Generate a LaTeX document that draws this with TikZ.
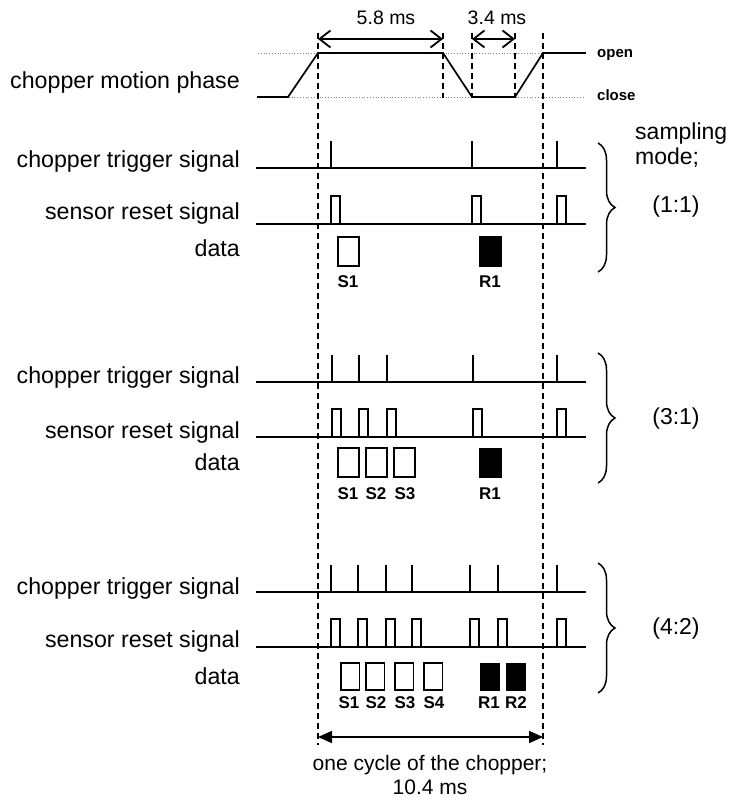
\documentclass[tikz,border=0pt]{standalone}
\usepackage{fontspec}
\setmainfont{Liberation Sans}
\usetikzlibrary{arrows.meta,decorations.pathreplacing}

\tikzset{
  sig/.style={line width=1.7pt, line cap=rect},
  spike/.style={line width=1.4pt},
  pulse/.style={line width=1.4pt},
  sbox/.style={line width=1.7pt},
  rbox/.style={fill=black, draw=black, line width=1pt},
  guide/.style={gray, line width=0.8pt, dotted},
  cycleline/.style={line width=1.6pt, dash pattern=on 6pt off 4pt},
  rowlabel/.style={anchor=east, font=\fontsize{23.2}{27}\selectfont, inner sep=0pt},
  dlabel/.style={font=\bfseries\fontsize{17}{20}\selectfont, inner sep=0pt},
  tlabel/.style={font=\fontsize{19.5}{22}\selectfont, inner sep=0pt},
  modelabel/.style={font=\fontsize{23}{27}\selectfont, inner sep=0pt},
  statelabel/.style={anchor=west, font=\bfseries\fontsize{15}{17}\selectfont, inner sep=0pt},
  grpbrace/.style={decorate, decoration={brace, amplitude=17pt, aspect=0.5}, line width=1.5pt},
  msarrow/.style={line width=1.7pt, {Straight Barb[length=11pt,width=17pt,line width=1.8pt]}-{Straight Barb[length=11pt,width=17pt,line width=1.8pt]}},
  cyclearrow/.style={line width=1.7pt, {Triangle[length=14pt,width=12pt]}-{Triangle[length=14pt,width=12pt]}}
}

\begin{document}
\begin{tikzpicture}[x=1pt, y=-1pt]
\useasboundingbox (0,0) rectangle (730,799);

% ---------- chopper motion phase ----------
\coordinate (openL) at (258,53);  \coordinate (openR) at (585,53);
\coordinate (closeL) at (258,97); \coordinate (closeR) at (585,97);
\draw[guide] (openL) -- (openR);
\draw[guide] (closeL) -- (closeR);
\node[statelabel] (open) at (597,55) {open};
\node[statelabel] (close) at (597,95) {close};
\draw[sig] (258,97) -- (288,97) -- (318,53) -- (443,53) -- (472,97)
           -- (515,97) -- (543,53) -- (585,53);
\node[rowlabel] (lmotion) at (240,83) {chopper motion phase};

% dashed markers of the phase edges
\coordinate (cA) at (318,33); \coordinate (cAe) at (318,745);
\coordinate (cB) at (543,33); \coordinate (cBe) at (543,745);
\draw[cycleline] (cA) -- (cAe);
\draw[cycleline] (cB) -- (cBe);
\foreach \x in {443,472,515}
  \draw[cycleline] (\x,33) -- (\x,98);

% durations
\coordinate (o1) at (318,39); \coordinate (o2) at (443,39);
\coordinate (c1) at (472,39); \coordinate (c2) at (515,39);
\draw[msarrow] (o1) -- (o2);
\draw[msarrow] (c1) -- (c2);
\node[tlabel] (t58) at (386,18) {5.8 ms};
\node[tlabel] (t34) at (497,18) {3.4 ms};

% ---------- one sampling-mode group ----------
% #1 trigger baseline y, #2 reset baseline y, #3 data box top y, #4 spike/pulse x list
\newcommand{\sigrows}[4]{%
  \draw[sig] (257,#1) -- (585,#1);
  \draw[sig] (257,#2) -- (585,#2);
  \foreach \x in {#4} {
    \draw[spike] (\x,#1) -- (\x,#1-27);
    \draw[pulse] (\x,#2) rectangle (\x+9,#2-28);
  }
}

% mode 1:1
\sigrows{168}{224}{237}{331,472,557}
\draw[sbox] (338,237) rectangle (359,266);
\draw[rbox] (479,237) rectangle (501,266);
\node[dlabel] (s11) at (348,282) {S1};
\node[dlabel] (r11) at (490,282) {R1};
\node[rowlabel] (ltrig1) at (240,162) {chopper trigger signal};
\node[rowlabel] (lres1) at (240,214) {sensor reset signal};
\node[rowlabel] (ldata1) at (240,248) {data};

% mode 3:1
\sigrows{382}{437}{448}{332,359,387,473,557}
\foreach \x in {338,366,394}
  \draw[sbox] (\x,448) rectangle (\x+21,477);
\draw[rbox] (479,448) rectangle (501,477);
\node[dlabel] (s21) at (348,494) {S1};
\node[dlabel] (s22) at (376,494) {S2};
\node[dlabel] (s23) at (405,494) {S3};
\node[dlabel] (r21) at (490,494) {R1};
\node[rowlabel] (ltrig2) at (240,377) {chopper trigger signal};
\node[rowlabel] (lres2) at (240,432) {sensor reset signal};
\node[rowlabel] (ldata2) at (240,462) {data};

% mode 4:2
\sigrows{592}{647}{663}{331,358,386,412,470,498,557}
\foreach \x in {341,366,395,424}
  \draw[sbox] (\x,663) rectangle (\x+18.5,690);
\foreach \x in {480,506}
  \draw[rbox] (\x,663) rectangle (\x+19,690);
\node[dlabel] (s31) at (349,703) {S1};
\node[dlabel] (s32) at (376,703) {S2};
\node[dlabel] (s33) at (405,703) {S3};
\node[dlabel] (s34) at (434,703) {S4};
\node[dlabel] (r31) at (489,703) {R1};
\node[dlabel] (r32) at (516,703) {R2};
\node[rowlabel] (ltrig3) at (240,588) {chopper trigger signal};
\node[rowlabel] (lres3) at (240,641) {sensor reset signal};
\node[rowlabel] (ldata3) at (240,676) {data};

% ---------- braces and sampling modes ----------
\draw[grpbrace] (598,143) -- (598,272);
\draw[grpbrace] (598,353) -- (598,483);
\draw[grpbrace] (598,563) -- (598,693);
\node[modelabel, anchor=west] (samp) at (635,134) {sampling};
\node[modelabel, anchor=west] (mode) at (635,158) {mode;};
\node[modelabel] (m11) at (676,207) {(1:1)};
\node[modelabel] (m31) at (676,419) {(3:1)};
\node[modelabel] (m42) at (676,629) {(4:2)};

% ---------- chopper cycle ----------
\coordinate (cy1) at (318,737); \coordinate (cy2) at (543,737);
\draw[cyclearrow] (cy1) -- (cy2);
\node[font=\fontsize{21}{24}\selectfont, align=center, inner sep=0pt] (cyc) at (430,775)
  {one cycle of the chopper;\\10.4 ms};
\end{tikzpicture}
\end{document}
